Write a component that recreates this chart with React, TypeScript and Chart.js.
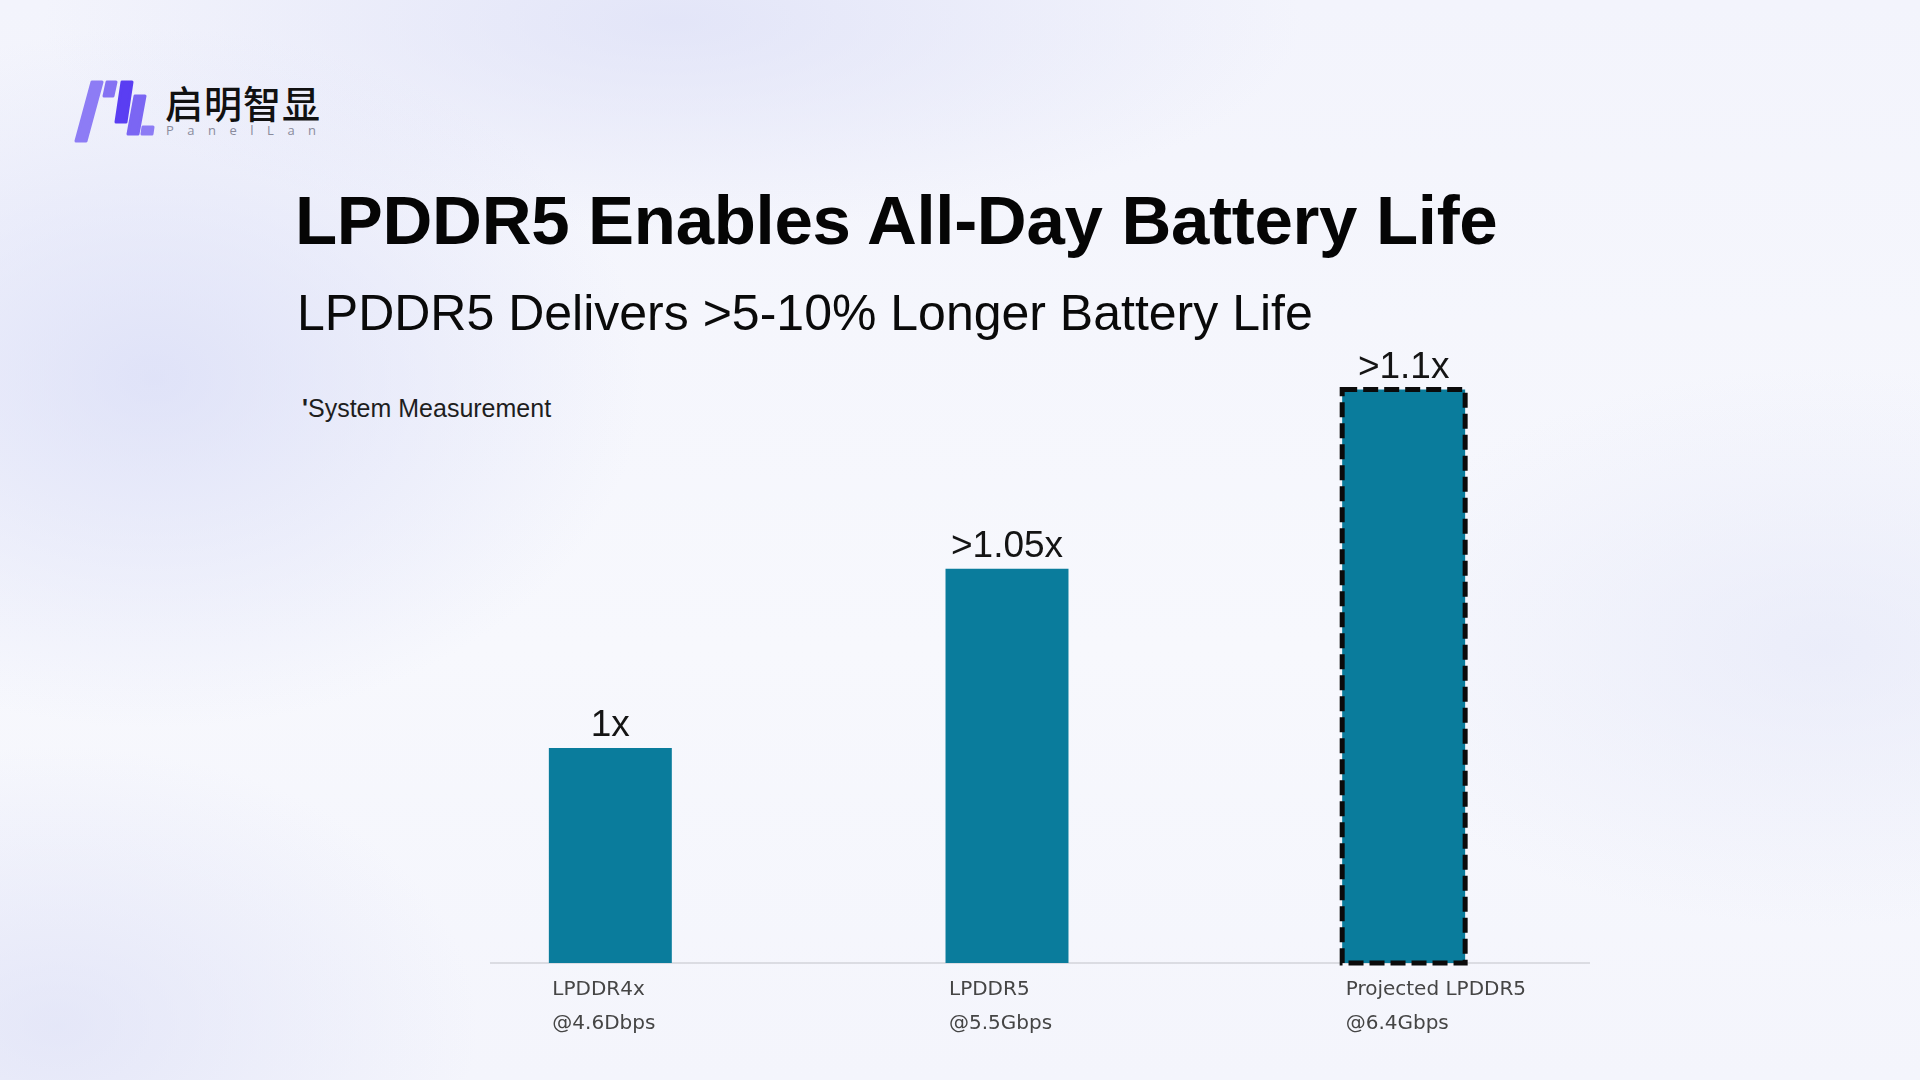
import React, { useEffect, useRef } from "react";
import { Chart, registerables } from "chart.js";

Chart.register(...registerables);

const categories: string[][] = [
  ["LPDDR4x", "@4.6Dbps"],
  ["LPDDR5", "@5.5Gbps"],
  ["Projected LPDDR5", "@6.4Gbps"],
];
const values: number[] = [1, 1.05, 1.1];
const valueLabels: string[] = ["1x", ">1.05x", ">1.1x"];
const projectedIndex: number[] = [2];

const titleText = "LPDDR5 Enables All-Day Battery Life";
const subtitleText = "LPDDR5 Delivers >5-10% Longer Battery Life";
const footnoteText = "System Measurement";

const BAR_COLOR = "#0a7c9c";

const baselinePlugin = {
  id: "baseline",
  beforeDatasetsDraw(chart: any) {
    const { ctx, chartArea } = chart;
    ctx.save();
    ctx.strokeStyle = "#d2d3da";
    ctx.lineWidth = 1.5;
    ctx.beginPath();
    ctx.moveTo(chartArea.left + 78, chartArea.bottom);
    ctx.lineTo(chartArea.right - 12, chartArea.bottom);
    ctx.stroke();
    ctx.restore();
  },
};

const valueLabelPlugin = {
  id: "valueLabels",
  afterDatasetsDraw(chart: any) {
    const ctx = chart.ctx;
    const bottom = chart.chartArea.bottom;
    const meta = chart.getDatasetMeta(0);
    ctx.save();
    meta.data.forEach((bar: any, i: number) => {
      if (!projectedIndex.includes(i)) return;
      const p = bar.getProps(["x", "y", "width"], true);
      ctx.setLineDash([15, 6]);
      ctx.lineWidth = 5;
      ctx.strokeStyle = "#0b0b0b";
      ctx.strokeRect(p.x - p.width / 2, p.y, p.width, bottom - p.y);
    });
    ctx.setLineDash([]);
    ctx.fillStyle = "#141414";
    ctx.font = "37px 'Liberation Sans', Arial, sans-serif";
    ctx.textAlign = "center";
    ctx.textBaseline = "alphabetic";
    meta.data.forEach((bar: any, i: number) => {
      const p = bar.getProps(["x", "y"], true);
      ctx.fillText(valueLabels[i], p.x, p.y - 12);
    });
    ctx.restore();
  },
};

function BarChart() {
  const ref = useRef<HTMLCanvasElement | null>(null);
  useEffect(() => {
    if (!ref.current) return;
    const chart = new Chart(ref.current, {
      type: "bar",
      data: {
        labels: categories,
        datasets: [
          {
            data: values,
            backgroundColor: BAR_COLOR,
            borderWidth: 0,
            barPercentage: 0.31,
            categoryPercentage: 1,
          },
        ],
      },
      options: {
        responsive: false,
        animation: false,
        devicePixelRatio: 1,
        layout: { padding: { left: 412, right: 318, top: 300, bottom: 29 } },
        plugins: {
          legend: { display: false },
          tooltip: { enabled: false },
          title: { display: false },
        },
        scales: {
          x: {
            grid: { display: false, drawTicks: false },
            border: { display: false },
            ticks: {
              autoSkip: false,
              maxRotation: 0,
              minRotation: 0,
              align: "start",
              labelOffset: -58,
              padding: 10,
              color: "#454545",
              font: { family: "'DejaVu Sans', Verdana, sans-serif", size: 20, lineHeight: 1.7 },
            },
          },
          y: {
            display: false,
            min: 0.94,
            max: 1.125,
          },
        },
      },
      plugins: [baselinePlugin, valueLabelPlugin],
    });
    return () => chart.destroy();
  }, []);
  return (
    <canvas
      ref={ref}
      width={1920}
      height={1080}
      style={{ position: "absolute", left: 0, top: 0, width: 1920, height: 1080 }}
    />
  );
}

function Logo() {
  return (
    <svg
      width={100}
      height={70}
      viewBox="70 75 100 70"
      style={{ position: "absolute", left: 70, top: 75 }}
    >
      <g strokeLinejoin="round" strokeWidth={3}>
        <polygon points="92,82 102,82 86,141 76,141" fill="#8d7cf5" stroke="#8d7cf5" />
        <polygon points="107,82 116,82 113,96 104,96" fill="#8572f3" stroke="#8572f3" />
        <polygon points="122,82 132,82 126,122 116,122" fill="#5a3ef2" stroke="#5a3ef2" />
        <polygon points="135,96 145,96 138,134 128,134" fill="#7b66f3" stroke="#7b66f3" />
        <polygon points="143,127 153,127 152,134 142,134" fill="#8d7cf5" stroke="#8d7cf5" />
      </g>
    </svg>
  );
}

export default function App() {
  return (
    <div
      style={{
        position: "absolute",
        left: 0,
        top: 0,
        width: 1920,
        height: 1080,
        overflow: "hidden",
        background:
          "radial-gradient(ellipse 700px 500px at 8% 35%, rgba(214,218,246,0.7), rgba(214,218,246,0) 70%)," +
          "radial-gradient(ellipse 900px 300px at 35% 2%, rgba(218,221,246,0.65), rgba(218,221,246,0) 70%)," +
          "radial-gradient(ellipse 600px 400px at 3% 95%, rgba(220,223,246,0.65), rgba(220,223,246,0) 70%)," +
          "radial-gradient(ellipse 700px 400px at 95% 60%, rgba(225,228,247,0.55), rgba(225,228,247,0) 70%)," +
          "linear-gradient(180deg, #f3f4fc 0%, #f7f8fd 60%, #f4f5fc 100%)",
        fontFamily: "'Liberation Sans', Arial, sans-serif",
      }}
    >
      <Logo />
      <div
        style={{
          position: "absolute",
          left: 165,
          top: 83,
          fontFamily: "'Noto Sans CJK SC', sans-serif",
          fontSize: 38,
          fontWeight: 500,
          lineHeight: 1,
          color: "#111",
          letterSpacing: 1,
        }}
      >
        启明智显
      </div>
      <div
        style={{
          position: "absolute",
          left: 166,
          top: 124,
          fontFamily: "'Open Sans', sans-serif",
          fontSize: 13,
          lineHeight: 1,
          color: "#8a8b9c",
          letterSpacing: 13.5,
        }}
      >
        PanelLan
      </div>
      <div
        style={{
          position: "absolute",
          left: 295,
          top: 186,
          fontSize: 69,
          fontWeight: 700,
          lineHeight: 1,
          color: "#050505",
          letterSpacing: -0.3,
          whiteSpace: "nowrap",
        }}
      >
        {titleText}
      </div>
      <div
        style={{
          position: "absolute",
          left: 297,
          top: 288,
          fontSize: 50,
          lineHeight: 1,
          color: "#0a0a0a",
          whiteSpace: "nowrap",
        }}
      >
        {subtitleText}
      </div>
      <div
        style={{
          position: "absolute",
          left: 302,
          top: 396,
          fontSize: 25,
          lineHeight: 1,
          color: "#1e1e1e",
          whiteSpace: "nowrap",
        }}
      >
        <span style={{ fontWeight: 700 }}>'</span>
        {footnoteText}
      </div>
      <BarChart />
    </div>
  );
}
